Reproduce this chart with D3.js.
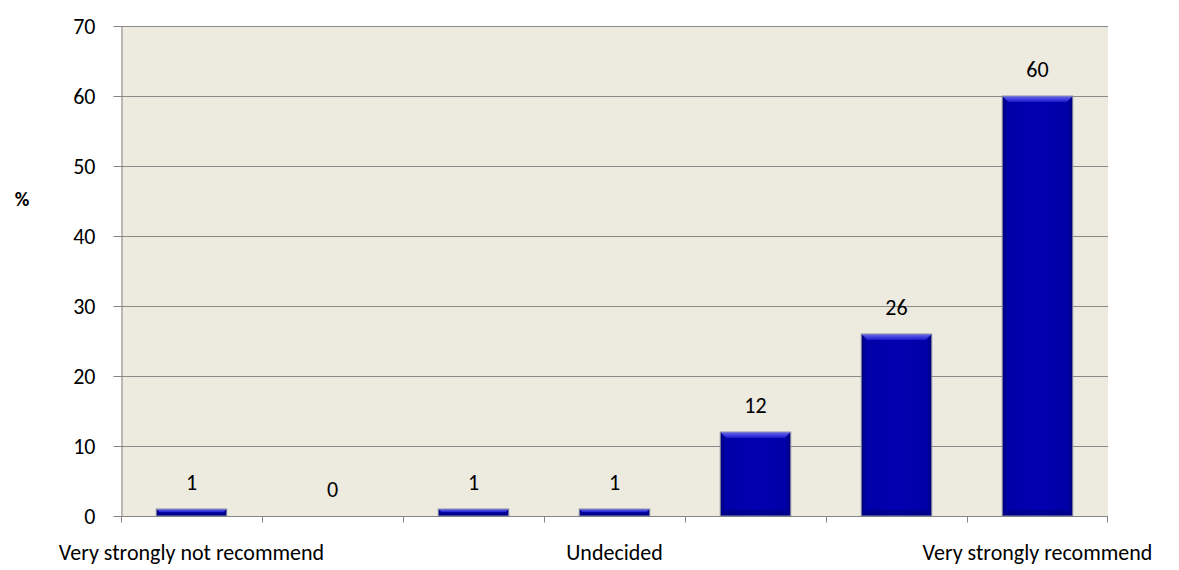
<!DOCTYPE html>
<html>
<head>
<meta charset="utf-8">
<script src="https://cdn.jsdelivr.net/npm/d3@7/dist/d3.min.js"></script>
<style>
  html, body { margin: 0; padding: 0; background: #ffffff; }
  svg { display: block; font-family: Carlito, Calibri, "Open Sans", "Liberation Sans", sans-serif; }
</style>
</head>
<body>
<svg id="chart" width="1179" height="570"></svg>
<script>
// Recommendation ratings, percent of respondents
const categories = ["r1", "r2", "r3", "r4", "r5", "r6", "r7"];
const categoryLabels = ["Very strongly not recommend", "", "", "Undecided", "", "", "Very strongly recommend"];
const percentValues = [1, 0, 1, 1, 12, 26, 60];
const yTicks = [0, 10, 20, 30, 40, 50, 60, 70];

const svg = d3.select("#chart");
const margin = { left: 121, right: 71, top: 26, bottom: 54 };
const W = 1179, H = 570;
const innerW = W - margin.left - margin.right;
const innerH = H - margin.top - margin.bottom;

const x = d3.scaleBand().domain(categories).range([0, innerW]).paddingInner(0.5).paddingOuter(0.25);
const xb = d3.scaleBand().domain(categories).range([0, innerW]);
const y = d3.scaleLinear().domain([0, 70]).range([innerH, 0]);

const defs = svg.append("defs");
const side = defs.append("linearGradient").attr("id", "barSide").attr("x1", 0).attr("x2", 1).attr("y1", 0).attr("y2", 0);
side.append("stop").attr("offset", "0").attr("stop-color", "#000078");
side.append("stop").attr("offset", "0.07").attr("stop-color", "#0000a8");
side.append("stop").attr("offset", "0.5").attr("stop-color", "#0000b0");
side.append("stop").attr("offset", "0.93").attr("stop-color", "#0000a8");
side.append("stop").attr("offset", "1").attr("stop-color", "#000078");
const topG = defs.append("linearGradient").attr("id", "barTop").attr("x1", 0).attr("x2", 0).attr("y1", 0).attr("y2", 1);
topG.append("stop").attr("offset", "0").attr("stop-color", "#6a6af5");
topG.append("stop").attr("offset", "1").attr("stop-color", "#1818c8");

const g = svg.append("g").attr("transform", `translate(${margin.left},${margin.top})`);

// plot background
g.append("rect").attr("width", innerW).attr("height", innerH).attr("fill", "#edeae0");

// gridlines
g.append("g").selectAll("line").data(yTicks.filter(t => t > 0)).join("line")
  .attr("x1", 0).attr("x2", innerW)
  .attr("y1", d => Math.round(y(d)) + 0.5).attr("y2", d => Math.round(y(d)) + 0.5)
  .attr("stroke", "#8a8a8a").attr("stroke-width", 1);

// y axis
const yAxis = g.append("g").attr("transform", "translate(0.5,0)")
  .call(d3.axisLeft(y).tickValues(yTicks).tickSize(8).tickSizeOuter(0).tickPadding(18));
yAxis.attr("font-family", null).attr("font-size", null);
yAxis.select(".domain").attr("stroke", "#868686");
yAxis.selectAll(".tick line").attr("stroke", "#868686");
yAxis.selectAll(".tick text").attr("font-size", 22).attr("fill", "#000");

// bars
const bars = g.append("g").selectAll("g").data(categories).join("g");
bars.each(function (c, i) {
  const v = percentValues[i];
  if (v <= 0) return;
  const bx = x(c), bw = x.bandwidth();
  const by = y(v), bh = y(0) - y(v);
  const sel = d3.select(this);
  sel.append("rect").attr("x", bx).attr("y", by).attr("width", bw).attr("height", bh)
    .attr("fill", "url(#barSide)");
  const bev = Math.min(6, bh / 2);
  sel.append("path")
    .attr("d", `M${bx},${by}L${bx + bw},${by}L${bx + bw - bev},${by + bev}L${bx + bev},${by + bev}Z`)
    .attr("fill", "url(#barTop)");
  sel.append("path")
    .attr("d", `M${bx},${by + bh}L${bx + bw},${by + bh}L${bx + bw - bev},${by + bh - bev}L${bx + bev},${by + bh - bev}Z`)
    .attr("fill", "#000080").attr("opacity", 0.6);
  sel.append("rect").attr("x", bx).attr("y", by).attr("width", bw).attr("height", bh)
    .attr("fill", "none").attr("stroke", "#8c8ca0").attr("stroke-width", 1);
});

// value labels
g.append("g").selectAll("text").data(categories).join("text")
  .attr("x", c => x(c) + x.bandwidth() / 2)
  .attr("y", (c, i) => y(percentValues[i]) - 19)
  .attr("text-anchor", "middle")
  .attr("font-size", 22).attr("fill", "#000")
  .text((c, i) => percentValues[i]);

// x axis
const xAxis = g.append("g").attr("transform", `translate(0,${innerH + 0.5})`);
xAxis.append("line").attr("x1", 0).attr("x2", innerW).attr("stroke", "#868686");
xAxis.selectAll("line.tk").data(categories.concat(["end"])).join("line").attr("class", "tk")
  .attr("x1", (c, i) => i < categories.length ? Math.round(xb(c)) + 0.5 : innerW - 0.5)
  .attr("x2", (c, i) => i < categories.length ? Math.round(xb(c)) + 0.5 : innerW - 0.5)
  .attr("y1", 0).attr("y2", 6).attr("stroke", "#868686");
xAxis.selectAll("text").data(categories).join("text")
  .attr("x", c => xb(c) + xb.bandwidth() / 2)
  .attr("y", 43)
  .attr("text-anchor", "middle").attr("font-size", 22).attr("fill", "#000")
  .text((c, i) => categoryLabels[i]);

// y axis title
svg.append("text").attr("x", 22).attr("y", 206).attr("text-anchor", "middle")
  .attr("font-size", 20).attr("font-weight", "bold").text("%");
</script>
</body>
</html>
